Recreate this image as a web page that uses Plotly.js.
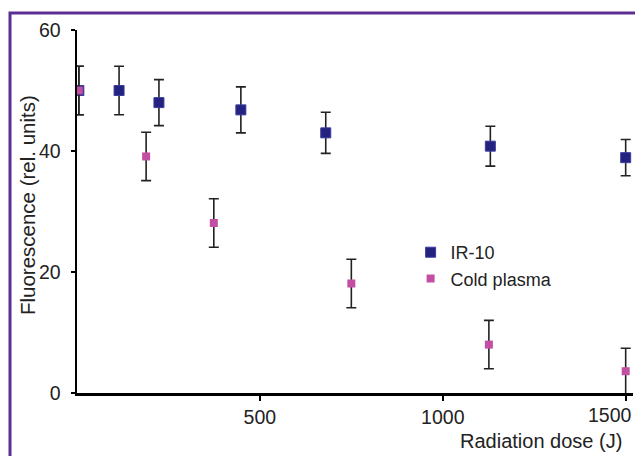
<!DOCTYPE html>
<html>
<head>
<meta charset="utf-8">
<script src="https://cdn.plot.ly/plotly-3.0.1.min.js"></script>
<style>
html,body{margin:0;padding:0;background:#fff;}
#chart{width:635px;height:456px;}
</style>
</head>
<body>
<div id="chart"></div>
<script>
// Data
const irDose = [5, 115, 224, 448, 680, 1130, 1500];
const irFluor = [50, 50, 48, 46.8, 43, 40.8, 38.9];
const irErr = [4, 4, 3.8, 3.8, 3.4, 3.3, 3.0];

const plasmaDose = [5, 189, 374, 750, 1126, 1500];
const plasmaFluor = [50, 39.1, 28.1, 18.1, 8.0, 3.6];
const plasmaErr = [4, 4, 4, 4, 4, 3.8];

const xTicks = [500, 1000, 1500];
const xTickText = ["500", "1000", "1500"];
const yTicks = [0, 20, 40, 60];

const font = "Liberation Sans, Arial, sans-serif";
const lastTick = xTicks.length - 1;

const traces = [
  {
    x: irDose, y: irFluor, name: "IR-10", type: "scatter", mode: "markers",
    marker: {symbol: "square", size: 10, color: "#23237f", line: {color: "#3b3ba0", width: 1}},
    error_y: {type: "data", array: irErr, visible: true, color: "#222", thickness: 1.6, width: 5}
  },
  {
    x: plasmaDose, y: plasmaFluor, name: "Cold plasma", type: "scatter", mode: "markers",
    marker: {symbol: "square", size: 8, color: "#c24fa3", line: {width: 0}},
    error_y: {type: "data", array: plasmaErr, visible: true, color: "#222", thickness: 1.6, width: 5}
  }
];

const layout = {
  width: 635, height: 456,
  margin: {l: 77, r: 2, t: 30, b: 63},
  paper_bgcolor: "#fff", plot_bgcolor: "#fff",
  font: {family: font, size: 19, color: "#222"},
  showlegend: true,
  legend: {x: 0.60, y: 0.438, xanchor: "left", yanchor: "top", bgcolor: "rgba(0,0,0,0)",
           font: {family: font, size: 18, color: "#222"}, tracegroupgap: 0},
  xaxis: {
    range: [0, 1520], tickvals: xTicks,
    // last label is drawn as an annotation so it stays inside the picture
    ticktext: xTickText.map((t, i) => i === lastTick ? "" : t),
    showgrid: false, zeroline: false, showline: true, linecolor: "#000", linewidth: 2.5,
    ticks: "outside", ticklen: 5, tickwidth: 2, tickcolor: "#000",
    tickfont: {family: font, size: 19.5, color: "#222"}, fixedrange: true
  },
  yaxis: {
    range: [0, 60], tickvals: yTicks, ticktext: yTicks.map(String),
    showgrid: false, zeroline: false, showline: true, linecolor: "#000", linewidth: 2.5,
    ticks: "outside", ticklen: 4, tickwidth: 2, tickcolor: "#000",
    ticklabelstandoff: 6,
    tickfont: {family: font, size: 19.5, color: "#222"}, fixedrange: true
  },
  annotations: [
    {text: xTickText[lastTick], xref: "x", yref: "paper", x: xTicks[lastTick], y: -0.0606,
     xanchor: "right", yanchor: "middle", xshift: 8, showarrow: false,
     font: {family: font, size: 19.5, color: "#222"}},
    {text: "Radiation dose (J)", xref: "paper", yref: "paper", x: 0.984, y: -0.132,
     xanchor: "right", yanchor: "middle", showarrow: false,
     font: {family: font, size: 20, color: "#222"}},
    {text: "Fluorescence (rel. units)", xref: "paper", yref: "paper", x: -0.088, y: 0.518,
     xanchor: "center", yanchor: "middle", textangle: -90, showarrow: false,
     font: {family: font, size: 20.5, color: "#222"}}
  ],
  shapes: [
    {type: "rect", xref: "paper", yref: "paper", x0: -0.1205, x1: 1.2, y0: -0.5, y1: 1.0468,
     line: {color: "#5c2e91", width: 3}, fillcolor: "rgba(0,0,0,0)", layer: "below"}
  ]
};

Plotly.newPlot("chart", traces, layout, {displayModeBar: false, staticPlot: true});
</script>
</body>
</html>
